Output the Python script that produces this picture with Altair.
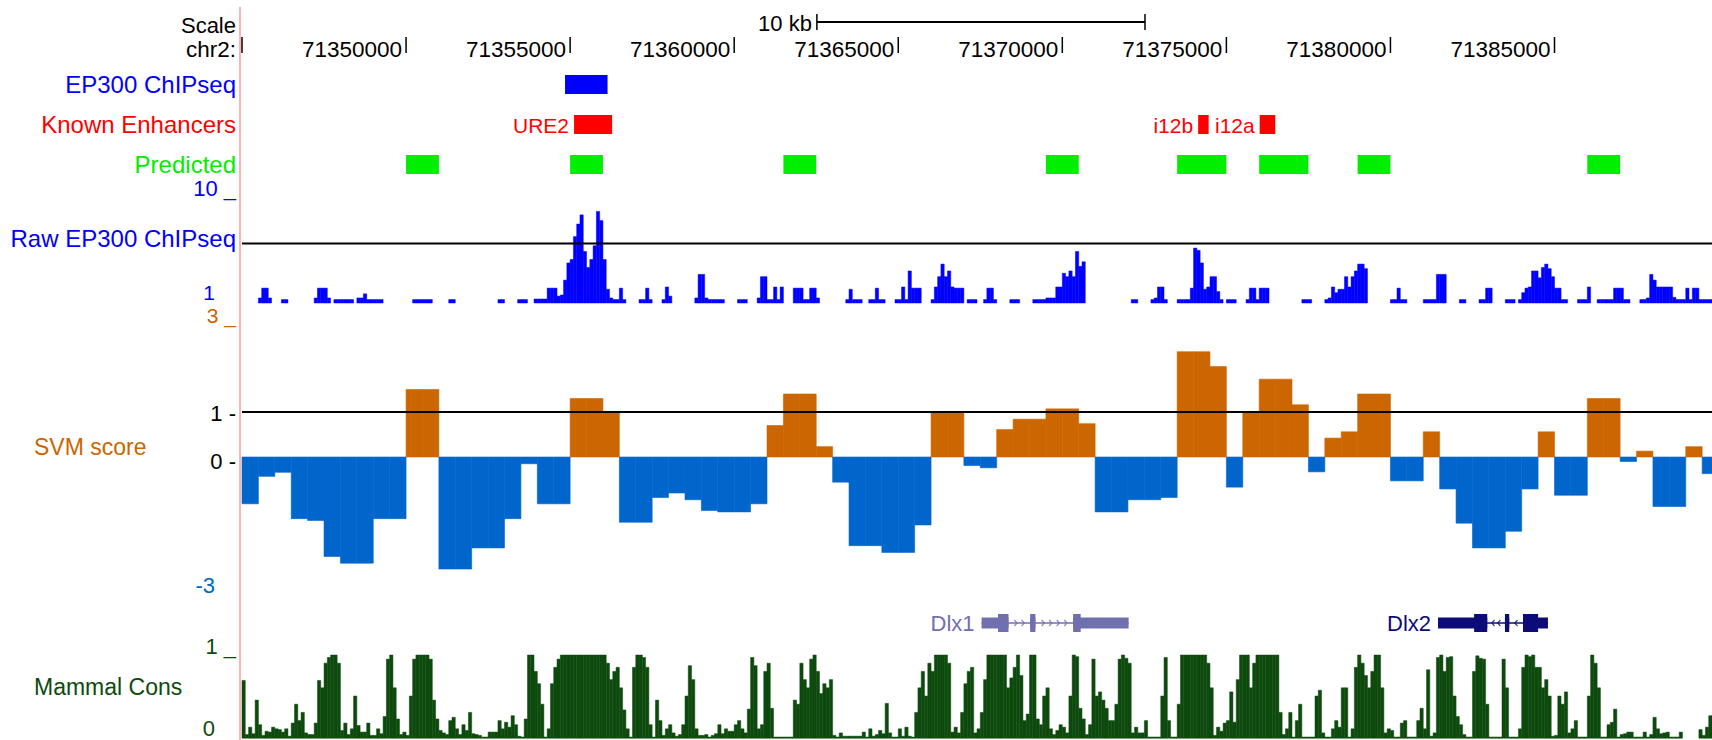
import altair as alt
import pandas as pd

# ---------------------------------------------------------------------------
# Genome browser view of the Dlx1/Dlx2 locus, chr2
# ---------------------------------------------------------------------------
VIEW_START = 71345000
VIEW_END = 71389800
BIN_BP = 100          # signal bins for the raw ChIP-seq and conservation tracks
SVM_BP = 500          # window size of the SVM classifier

tick_positions = [71350000, 71355000, 71360000, 71365000,
                  71370000, 71375000, 71380000, 71385000]
scale_bar_start = 71362520
scale_bar_len = 10000

ep300_peak_start = [71354845]
ep300_peak_end = [71356140]

enhancer_names = ["URE2", "i12b", "i12a"]
enhancer_start = [71355120, 71374140, 71376015]
enhancer_end = [71356280, 71374460, 71376490]

predicted_start = [71350000, 71355000, 71361500, 71369500,
                   71373500, 71376000, 71379000, 71386000]
predicted_end = [71351000, 71356000, 71362500, 71370500,
                 71375000, 71377500, 71380000, 71387000]

svm_threshold = 1.0
svm_scores = [
    -1.04, -0.43, -0.34, -1.37, -1.41, -2.21, -2.36, -2.36, -1.37, -1.37,
    1.50, 1.50, -2.49, -2.49, -2.02, -2.02, -1.37, -0.15, -1.04, -1.04,
    1.30, 1.30, 0.98, -1.45, -1.45, -0.90, -0.80, -0.95, -1.19, -1.22,
    -1.22, -1.04, 0.70, 1.40, 1.40, 0.23, -0.56, -1.97, -1.97, -2.12,
    -2.12, -1.51, 0.98, 0.98, -0.19, -0.24, 0.61, 0.84, 0.84, 1.07,
    1.07, 0.74, -1.22, -1.22, -0.95, -0.95, -0.90, 2.34, 2.34, 2.01,
    -0.67, 0.98, 1.73, 1.73, 1.16, -0.33, 0.42, 0.56, 1.40, 1.40,
    -0.53, -0.53, 0.56, -0.71, -1.47, -2.02, -2.02, -1.65, -0.71, 0.56,
    -0.85, -0.85, 1.30, 1.30, -0.10, 0.13, -1.10, -1.10, 0.23, -0.37,
]

na = None
ep300_threshold = 6.2
ep300_signal = [
    na, na, na, na, na, 1.44, 2.3, 2.3, 1.44, na,
    na, na, 1.3, 1.3, na, na, na, na, na, na,
    na, na, 1.44, 2.3, 2.3, 2.3, 1.44, na, 1.3, 1.3,
    1.3, 1.3, 1.3, 1.3, na, 1.44, 1.44, 1.8, 1.3, 1.3,
    1.3, 1.3, 1.3, na, na, na, na, na, na, na,
    na, na, 1.3, 1.3, 1.3, 1.3, 1.3, 1.3, na, na,
    na, na, na, 1.3, 1.3, na, na, na, na, na,
    na, na, na, na, na, na, na, na, 1.3, 1.3,
    na, na, na, na, 1.3, 1.3, 1.3, na, na, 1.35,
    1.35, 1.35, 1.35, 2.3, 2.3, 2.3, 1.6, 1.7, 3.0, 4.5,
    4.8, 6.8, 7.9, 8.7, 5.5, 4.1, 4.8, 6.0, 9.0, 8.2,
    4.8, 2.2, 1.44, 1.3, 1.3, 2.3, 1.3, na, na, na,
    na, 1.3, 1.3, 2.3, 1.3, na, na, na, 1.3, 2.4,
    1.6, na, na, na, na, na, na, na, 1.44, 3.5,
    3.5, 1.44, 1.3, 1.3, 1.3, 1.3, 1.3, na, na, na,
    na, 1.3, 1.3, 1.3, na, na, na, 1.44, 3.3, 3.3,
    1.3, 1.3, 2.4, 1.3, 2.4, na, na, na, 2.3, 2.3,
    2.3, 1.3, 1.3, 2.3, 2.3, 1.44, na, na, na, na,
    na, na, na, na, 1.3, 2.2, 1.3, 1.3, 1.3, na,
    na, 1.3, 1.3, 2.3, 1.3, 1.3, na, na, na, 1.3,
    1.3, 2.4, 1.3, 3.8, 2.3, 2.3, 2.3, na, na, na,
    1.3, 2.4, 3.3, 4.4, 3.3, 3.8, 2.4, 2.3, 2.3, 2.3,
    na, 1.3, 1.3, 1.3, na, na, 1.3, 2.3, 2.3, 1.3,
    na, na, na, na, 1.3, 1.3, 1.3, na, na, na,
    na, 1.3, 1.3, 1.3, 1.3, 1.44, 1.44, 1.44, 2.4, 2.4,
    3.6, 3.3, 3.8, 3.3, 5.5, 4.2, 4.6, na, na, na,
    na, na, na, na, na, na, na, na, na, na,
    na, 1.3, 1.3, na, na, na, na, 1.3, 1.44, 2.4,
    2.4, 1.3, na, na, na, 1.3, 1.3, 1.3, 1.3, 2.3,
    5.8, 5.6, 4.5, 2.2, 2.4, 3.3, 3.3, 2.0, 1.3, na,
    1.3, 1.3, 1.3, na, na, na, 1.3, 2.3, 2.3, 1.3,
    2.3, 2.3, 2.3, na, na, na, na, na, na, na,
    na, na, na, 1.3, 1.3, 1.3, na, na, na, na,
    1.3, 1.44, 2.4, 1.9, 2.2, 2.2, 3.3, 2.4, 3.3, 3.8,
    4.4, 4.4, 4.0, na, na, na, na, na, na, na,
    1.3, 1.3, 2.3, 1.3, 1.3, na, na, na, na, na,
    1.3, 1.3, 1.3, 1.3, 3.5, 3.5, 3.5, na, na, na,
    na, 1.3, 1.3, na, na, na, na, 1.3, 1.3, 2.3,
    2.3, na, na, na, na, 1.3, 1.3, 1.3, na, 1.3,
    1.9, 2.3, 2.4, 3.8, 3.8, 3.2, 4.1, 4.4, 4.0, 3.3,
    2.3, 2.3, 1.3, 1.3, na, na, na, 1.3, 1.3, 1.3,
    2.4, na, na, 1.3, 1.3, 1.3, 1.3, 1.3, 2.3, 2.3,
    2.3, 1.3, 1.3, na, na, na, 1.3, 1.3, 1.44, 3.5,
    3.0, 2.4, 2.4, 2.4, 2.4, 2.4, 1.5, 1.3, 1.3, 1.3,
    2.3, 1.3, 2.3, 2.3, 1.3, 1.3, 1.3, 1.3,
]

mammal_cons = [
    0.69, 0.03, 0.12, 0.04, 0.45, 0.15, 0.02, 0.07, 0.06, 0.12,
    0.10, 0.09, 0.06, 0.10, 0.01, 0.17, 0.40, 0.20, 0.30, 0.05,
    0.03, 0.03, 0.17, 0.69, 0.60, 0.90, 0.97, 1.00, 1.00, 0.90,
    0.08, 0.17, 0.03, 0.10, 0.50, 0.14, 0.06, 0.06, 0.17, 0.02,
    0.02, 0.10, 0.04, 0.25, 0.95, 1.00, 0.60, 0.22, 0.03, 0.06,
    0.02, 0.50, 0.95, 1.00, 1.00, 1.00, 1.00, 0.95, 0.45, 0.22,
    0.08, 0.05, 0.03, 0.20, 0.24, 0.10, 0.03, 0.15, 0.08, 0.30,
    0.04, 0.03, 0.02, 0.00, 0.00, 0.06, 0.06, 0.06, 0.20, 0.10,
    0.18, 0.12, 0.26, 0.15, 0.01, 0.00, 0.22, 1.00, 1.00, 0.80,
    0.65, 0.40, 0.00, 0.10, 0.65, 0.85, 0.95, 1.00, 1.00, 1.00,
    1.00, 1.00, 1.00, 1.00, 1.00, 1.00, 1.00, 1.00, 1.00, 1.00,
    1.00, 0.90, 0.70, 0.80, 0.85, 0.60, 0.33, 0.10, 0.00, 0.85,
    1.00, 1.00, 0.97, 0.85, 0.15, 0.00, 0.45, 0.20, 0.02, 0.10,
    0.15, 0.05, 0.01, 0.03, 0.15, 0.50, 0.87, 0.70, 0.10, 0.02,
    0.02, 0.03, 0.00, 0.02, 0.04, 0.15, 0.04, 0.10, 0.07, 0.07,
    0.15, 0.20, 0.10, 0.05, 0.34, 0.97, 0.87, 0.10, 0.15, 0.80,
    0.90, 0.35, 0.00, 0.00, 0.00, 0.00, 0.00, 0.00, 0.45, 0.40,
    0.90, 0.70, 0.60, 0.95, 1.00, 0.80, 0.53, 0.65, 0.60, 0.70,
    0.02, 0.00, 0.05, 0.01, 0.01, 0.01, 0.01, 0.01, 0.01, 0.06,
    0.00, 0.10, 0.01, 0.03, 0.08, 0.04, 0.41, 0.05, 0.00, 0.00,
    0.10, 0.01, 0.12, 0.01, 0.00, 0.30, 0.60, 0.80, 0.50, 0.90,
    0.80, 1.00, 1.00, 1.00, 1.00, 0.90, 0.06, 0.12, 0.05, 0.30,
    0.65, 0.80, 0.85, 0.05, 0.10, 0.30, 0.70, 1.00, 1.00, 1.00,
    1.00, 1.00, 1.00, 0.60, 0.72, 0.85, 1.00, 0.75, 0.20, 0.28,
    1.00, 1.00, 0.22, 0.15, 0.50, 0.60, 0.10, 0.03, 0.08, 0.15,
    0.12, 0.05, 0.50, 1.00, 0.98, 0.35, 0.22, 0.03, 0.15, 0.95,
    0.50, 0.55, 0.45, 0.35, 0.20, 0.20, 0.40, 0.95, 1.00, 0.96,
    0.90, 0.05, 0.12, 0.05, 0.05, 0.20, 0.00, 0.00, 0.00, 0.00,
    0.50, 0.97, 0.20, 0.00, 0.00, 0.40, 1.00, 1.00, 1.00, 1.00,
    1.00, 1.00, 1.00, 1.00, 0.90, 0.60, 0.02, 0.12, 0.07, 0.17,
    0.20, 0.55, 0.18, 0.70, 1.00, 1.00, 1.00, 0.60, 0.90, 1.00,
    1.00, 1.00, 1.00, 1.00, 1.00, 1.00, 0.30, 0.03, 0.10, 0.30,
    0.00, 0.20, 0.40, 0.00, 0.00, 0.00, 0.00, 0.50, 0.57, 0.05,
    0.00, 0.00, 0.10, 0.20, 0.12, 0.60, 0.60, 0.00, 0.10, 0.85,
    1.00, 0.90, 0.75, 0.60, 0.80, 1.00, 1.00, 0.60, 0.05, 0.10,
    0.08, 0.00, 0.00, 0.17, 0.20, 0.00, 0.00, 0.00, 0.20, 0.35,
    0.10, 0.82, 0.01, 0.05, 0.97, 1.00, 0.80, 0.97, 0.98, 0.50,
    0.25, 0.15, 0.03, 0.00, 0.00, 0.80, 0.99, 0.96, 0.95, 0.40,
    0.00, 0.00, 0.00, 0.00, 0.95, 0.60, 0.00, 0.00, 0.00, 0.10,
    0.85, 1.00, 0.98, 1.00, 0.85, 0.85, 0.60, 0.70, 0.50, 0.01,
    0.02, 0.50, 0.40, 0.55, 0.05, 0.10, 0.20, 0.00, 0.00, 0.00,
    0.50, 1.00, 0.90, 0.60, 0.00, 0.00, 0.15, 0.18, 0.34, 0.00,
    0.03, 0.04, 0.06, 0.06, 0.00, 0.00, 0.00, 0.06, 0.00, 0.03,
    0.24, 0.10, 0.04, 0.05, 0.06, 0.00, 0.00, 0.00, 0.06, na,
    na, na, na, na, 0.09, 0.02, 0.12, 0.26,
]

gene_names = ["Dlx1", "Dlx2"]
gene_strand = ["+", "-"]
gene_tx_start = [71367540, 71381450]
gene_tx_end = [71372020, 71384800]
gene_cds_start = [71368040, 71382550]
gene_cds_end = [71370560, 71384500]
gene_exon_starts = [[71367540, 71369020, 71370330], [71381450, 71383490, 71384040]]
gene_exon_ends = [[71368360, 71369180, 71372020], [71382950, 71383620, 71384800]]

# ---------------------------------------------------------------------------
# Styling / layout
# ---------------------------------------------------------------------------
FONT = "Liberation Sans"
BLUE = "#0000ff"
RED = "#ff0000"
GREEN = "#00ee00"
SVM_POS = "#cc6600"
SVM_NEG = "#0066cc"
CONS = "#0e4a0e"
GENE_COLORS = {"Dlx1": "#7070b0", "Dlx2": "#0c0c78"}
PINK = "#ffb4b4"

X = alt.Scale(domain=[VIEW_START, VIEW_END], range=[242, 1712], nice=False, zero=False)
EP300_Y = alt.Scale(domain=[1, 10], range=[303, 200], nice=False, zero=False)
SVM_Y = alt.Scale(domain=[-3, 3], range=[592, 322], nice=False, zero=False)
CONS_Y = alt.Scale(domain=[0, 1], range=[737, 655], nice=False, zero=False)


def binned(values, width):
    rows = []
    for i, v in enumerate(values):
        if v is None:
            continue
        s = VIEW_START + i * width
        rows.append({"start": s, "end": s + width, "value": v})
    return pd.DataFrame(rows)


def xq(field):
    return alt.X(f"{field}:Q", scale=X, axis=None)


def one_row(**kw):
    return pd.DataFrame({k: [v] for k, v in kw.items()})


def label(text, x, y, color, size=22, align="right"):
    return alt.Chart(one_row(t=text)).mark_text(
        align=align, baseline="middle", font=FONT, fontSize=size, color=color
    ).encode(x=alt.value(x), y=alt.value(y), text="t:N")


layers = []

# separator between label column and image
layers.append(alt.Chart(one_row(a=0)).mark_rule(color=PINK, strokeWidth=2).encode(
    x=alt.value(240), y=alt.value(7), y2=alt.value(740)))

# ---- scale bar and base position ruler ----
sb = one_row(s=scale_bar_start, e=scale_bar_start + scale_bar_len, t="10 kb")
layers.append(alt.Chart(sb).mark_rule(color="black", strokeWidth=2).encode(
    x=xq("s"), x2="e:Q", y=alt.value(22)))
sb_ends = pd.DataFrame({"p": [scale_bar_start, scale_bar_start + scale_bar_len]})
layers.append(alt.Chart(sb_ends).mark_rule(color="black", strokeWidth=1.5).encode(
    x=xq("p"), y=alt.value(14), y2=alt.value(30)))
layers.append(alt.Chart(sb).mark_text(align="right", baseline="middle", dx=-5,
                                      font=FONT, fontSize=22, color="black").encode(
    x=xq("s"), y=alt.value(24), text="t:N"))

ticks = pd.DataFrame({"p": [VIEW_START] + tick_positions,
                      "t": [""] + [str(p) for p in tick_positions]})
layers.append(alt.Chart(ticks).mark_rule(color="black", strokeWidth=1.5).encode(
    x=xq("p"), y=alt.value(37), y2=alt.value(53)))
layers.append(alt.Chart(ticks).mark_text(align="right", baseline="middle", dx=-4,
                                         font=FONT, fontSize=22.5, color="black").encode(
    x=xq("p"), y=alt.value(50), text="t:N"))

# ---- feature tracks ----
peaks = pd.DataFrame({"s": ep300_peak_start, "e": ep300_peak_end})
layers.append(alt.Chart(peaks).mark_rect(color=BLUE).encode(
    x=xq("s"), x2="e:Q", y=alt.value(75), y2=alt.value(94)))

enh = pd.DataFrame({"s": enhancer_start, "e": enhancer_end, "name": enhancer_names})
layers.append(alt.Chart(enh).mark_rect(color=RED).encode(
    x=xq("s"), x2="e:Q", y=alt.value(115), y2=alt.value(134)))
layers.append(alt.Chart(enh).mark_text(align="right", baseline="middle", dx=-5,
                                       font=FONT, fontSize=21, color=RED).encode(
    x=xq("s"), y=alt.value(127), text="name:N"))

pred = pd.DataFrame({"s": predicted_start, "e": predicted_end})
layers.append(alt.Chart(pred).mark_rect(color=GREEN).encode(
    x=xq("s"), x2="e:Q", y=alt.value(155), y2=alt.value(174)))

# ---- raw EP300 ChIP-seq signal ----
ep = binned(ep300_signal, BIN_BP)
ep["base"] = 1
layers.append(alt.Chart(ep).mark_rect(color=BLUE, stroke=BLUE, strokeWidth=0.5).encode(
    x=xq("start"), x2="end:Q",
    y=alt.Y("value:Q", scale=EP300_Y, axis=None), y2="base:Q"))
layers.append(alt.Chart(one_row(s=VIEW_START, e=VIEW_END, v=ep300_threshold)).mark_rule(
    color="black", strokeWidth=2).encode(
    x=xq("s"), x2="e:Q", y=alt.Y("v:Q", scale=EP300_Y, axis=None)))

# ---- SVM score ----
svm = binned(svm_scores, SVM_BP)
svm["base"] = 0
svm_color = alt.condition(alt.datum.value > 0, alt.value(SVM_POS), alt.value(SVM_NEG))
layers.append(alt.Chart(svm).mark_rect(strokeWidth=0.6).encode(
    x=xq("start"), x2="end:Q",
    y=alt.Y("value:Q", scale=SVM_Y, axis=None), y2="base:Q",
    color=svm_color, stroke=svm_color))
layers.append(alt.Chart(one_row(s=VIEW_START, e=VIEW_END, v=svm_threshold)).mark_rule(
    color="black", strokeWidth=2).encode(
    x=xq("s"), x2="e:Q", y=alt.Y("v:Q", scale=SVM_Y, axis=None)))

# ---- gene models ----
blocks, introns, chevrons, names = [], [], [], []
for g, name in enumerate(gene_names):
    col = GENE_COLORS[name]
    names.append({"s": gene_tx_start[g], "name": name, "c": col})
    introns.append({"s": gene_tx_start[g], "e": gene_tx_end[g], "c": col})
    cs, ce = gene_cds_start[g], gene_cds_end[g]
    ex_s, ex_e = gene_exon_starts[g], gene_exon_ends[g]
    for s, e in zip(ex_s, ex_e):
        blocks.append({"s": s, "e": e, "c": col, "kind": "utr"})
        a, b = max(s, cs), min(e, ce)
        if a < b:
            blocks.append({"s": a, "e": b, "c": col, "kind": "cds"})
    for e, s in zip(ex_e[:-1], ex_s[1:]):
        n = max(1, round((s - e) / 300))
        step = (s - e) / (n + 1)
        for k in range(1, n + 1):
            chevrons.append({"p": e + k * step, "c": col, "strand": gene_strand[g]})

blocks = pd.DataFrame(blocks)
introns = pd.DataFrame(introns)
chevrons = pd.DataFrame(chevrons)
names = pd.DataFrame(names)

layers.append(alt.Chart(introns).mark_rule(strokeWidth=1.5).encode(
    x=xq("s"), x2="e:Q", y=alt.value(623), color=alt.Color("c:N", scale=None)))
for strand, path in [("+", "M-0.45,-1L0.45,0L-0.45,1"), ("-", "M0.45,-1L-0.45,0L0.45,1")]:
    layers.append(alt.Chart(chevrons[chevrons.strand == strand]).mark_point(
        shape=path, filled=False, strokeWidth=1.2, size=36, opacity=0.8).encode(
        x=xq("p"), y=alt.value(623), color=alt.Color("c:N", scale=None)))
layers.append(alt.Chart(blocks[blocks.kind == "utr"]).mark_rect().encode(
    x=xq("s"), x2="e:Q", y=alt.value(617.5), y2=alt.value(628.5),
    color=alt.Color("c:N", scale=None)))
layers.append(alt.Chart(blocks[blocks.kind == "cds"]).mark_rect().encode(
    x=xq("s"), x2="e:Q", y=alt.value(614), y2=alt.value(632),
    color=alt.Color("c:N", scale=None)))
layers.append(alt.Chart(names).mark_text(align="right", baseline="middle", dx=-7,
                                         font=FONT, fontSize=22).encode(
    x=xq("s"), y=alt.value(624), text="name:N", color=alt.Color("c:N", scale=None)))

# ---- mammal conservation ----
cons = binned(mammal_cons, BIN_BP)
cons["base"] = -0.015
layers.append(alt.Chart(cons).mark_rect(color=CONS, stroke=CONS, strokeWidth=0.5).encode(
    x=xq("start"), x2="end:Q",
    y=alt.Y("value:Q", scale=CONS_Y, axis=None), y2="base:Q"))

# ---- left-hand labels ----
layers += [
    label("Scale", 236, 26, "black", 22),
    label("chr2:", 236, 50, "black", 22.5),
    label("EP300 ChIPseq", 236, 86, BLUE, 24),
    label("Known Enhancers", 236, 126, RED, 24),
    label("Predicted", 236, 166, GREEN, 24),
    label("10 _", 236, 189, BLUE, 22),
    label("Raw EP300 ChIPseq", 236, 240, BLUE, 24),
    label("1", 215, 294, BLUE, 21),
    label("3 _", 236, 317, SVM_POS, 21),
    label("1 -", 236, 414, "black", 22),
    label("SVM score", 34, 448, SVM_POS, 23, align="left"),
    label("0 -", 236, 462, "black", 22),
    label("-3", 215, 586, SVM_NEG, 22),
    label("1 _", 236, 647, CONS, 22),
    label("Mammal Cons", 34, 688, CONS, 23, align="left"),
    label("0", 215, 729, CONS, 22),
]

chart = alt.layer(*layers).resolve_scale(y="independent").properties(
    width=1712, height=740, padding=0, autosize="none", background="white"
).configure_view(stroke=None)

chart.save("out.html", embed_options={"renderer": "svg", "actions": False})
